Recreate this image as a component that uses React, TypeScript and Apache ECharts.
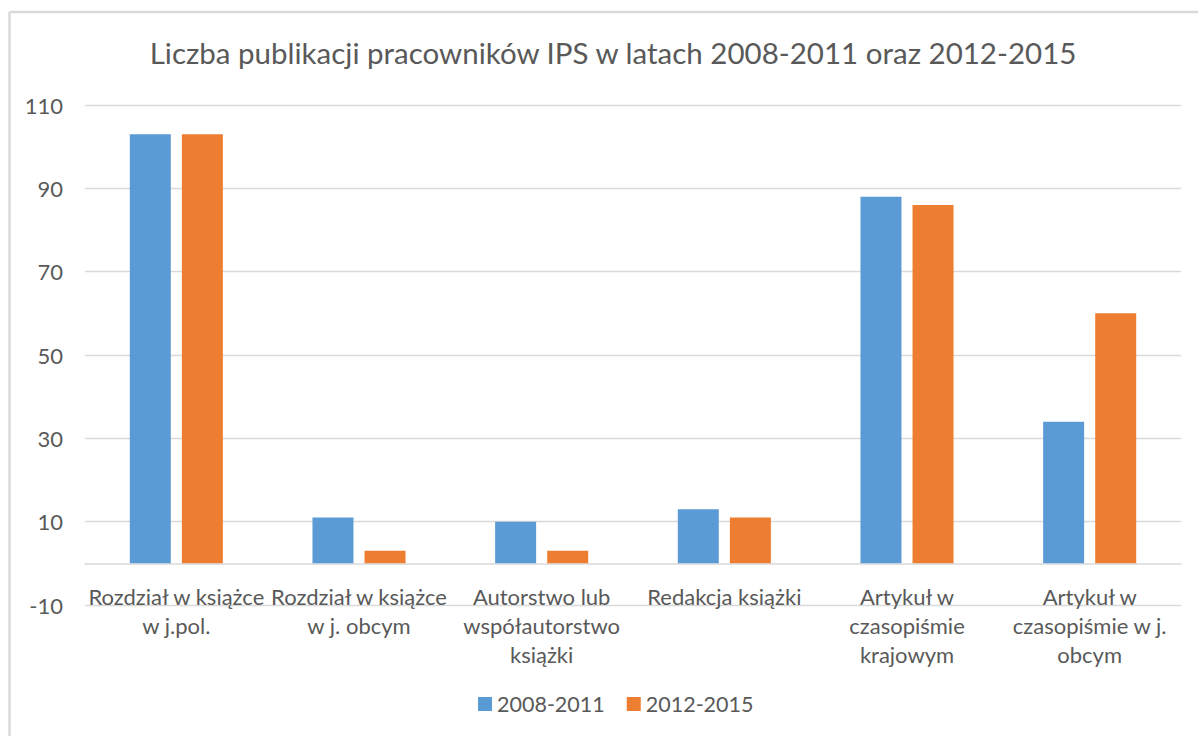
import React, { useEffect, useRef } from "react";
import * as echarts from "echarts";

const titleText = "Liczba publikacji pracowników IPS w latach 2008-2011 oraz 2012-2015";
const categories = [
  "Rozdział w książce\nw j.pol.",
  "Rozdział w książce\nw j. obcym",
  "Autorstwo lub\nwspółautorstwo\nksiążki",
  "Redakcja książki",
  "Artykuł w\nczasopiśmie\nkrajowym",
  "Artykuł w\nczasopiśmie w j.\nobcym",
];
const seriesNames = ["2008-2011", "2012-2015"];
const values2008 = [103, 11, 10, 13, 88, 34];
const values2012 = [103, 3, 3, 11, 86, 60];
const yMin = -10;
const yMax = 110;
const yStep = 20;

const FONT = "Lato, 'Noto Sans', sans-serif";
const TEXT = "#595959";
const GRID = "#d9d9d9";

export default function App() {
  const ref = useRef<HTMLDivElement>(null);
  useEffect(() => {
    if (!ref.current) return;
    const chart = echarts.init(ref.current, null, { renderer: "svg" });
    chart.setOption({
      animation: false,
      backgroundColor: "#ffffff",
      textStyle: { fontFamily: FONT },
      title: {
        text: titleText,
        left: 608,
        textAlign: "center",
        top: 32,
        textStyle: { fontFamily: FONT, fontSize: 29.5, fontWeight: "normal", color: TEXT },
      },
      graphic: [
        { type: "line", shape: { x1: 9.5, y1: 12, x2: 1198, y2: 12 }, style: { stroke: GRID, lineWidth: 2.5 } },
        { type: "line", shape: { x1: 9.5, y1: 12, x2: 9.5, y2: 736 }, style: { stroke: GRID, lineWidth: 2.5 } },
      ],
      legend: {
        data: seriesNames,
        left: 478,
        top: 693,
        padding: 0,
        icon: "rect",
        itemWidth: 14,
        itemHeight: 14,
        itemGap: 22,
        textStyle: { fontFamily: FONT, fontSize: 21.5, color: TEXT },
      },
      grid: { left: 85, right: 17, top: 105, bottom: 131, containLabel: false },
      xAxis: {
        type: "category",
        data: categories,
        axisLine: { onZero: true, lineStyle: { color: GRID, width: 1.5 } },
        axisTick: { show: false },
        axisLabel: {
          interval: 0,
          color: TEXT,
          fontFamily: FONT,
          fontSize: 22,
          lineHeight: 29,
          margin: -23,
        },
      },
      yAxis: {
        type: "value",
        min: yMin,
        max: yMax,
        interval: yStep,
        axisLine: { show: false },
        axisTick: { show: false },
        splitLine: { lineStyle: { color: GRID, width: 1.3 } },
        axisLabel: { color: TEXT, fontFamily: FONT, fontSize: 22, margin: 22 },
      },
      series: [
        {
          name: seriesNames[0],
          type: "bar",
          data: values2008,
          barWidth: 41,
          barGap: "27%",
          itemStyle: { color: "#5B9BD5" },
        },
        {
          name: seriesNames[1],
          type: "bar",
          data: values2012,
          barWidth: 41,
          barGap: "27%",
          itemStyle: { color: "#ED7D31" },
        },
      ],
    });
    return () => chart.dispose();
  }, []);
  return (
    <div
      ref={ref}
      style={{ position: "fixed", left: 0, top: 0, width: 1198, height: 736 }}
    />
  );
}
